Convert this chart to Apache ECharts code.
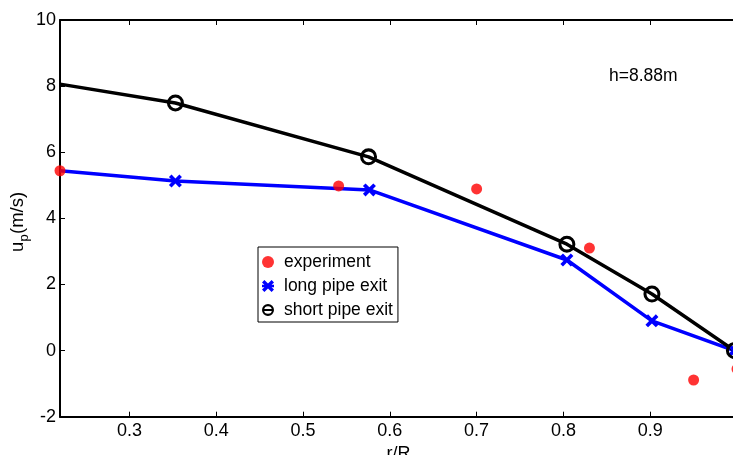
<!DOCTYPE html>
<html>
<head>
<meta charset="utf-8">
<script src="https://cdn.jsdelivr.net/npm/echarts@6/dist/echarts.min.js"></script>
<style>
html,body{margin:0;padding:0;background:#fff;}
#chart{width:733px;height:455px;}
</style>
</head>
<body>
<div id="chart"></div>
<script>
// ---- data ----
const seriesNames = ['experiment', 'long pipe exit', 'short pipe exit'];
const expR = [0.22, 0.541, 0.70, 0.83, 0.95, 1.0];
const expU = [5.44, 4.98, 4.89, 3.10, -0.89, -0.56];
const longR = [0.22, 0.353, 0.5765, 0.804, 0.902, 0.997];
const longU = [5.44, 5.13, 4.86, 2.74, 0.90, 0.0];
const shortR = [0.22, 0.353, 0.5755, 0.804, 0.902, 0.997];
const shortU = [8.06, 7.49, 5.86, 3.22, 1.71, 0.0];
const xTicks = [0.3, 0.4, 0.5, 0.6, 0.7, 0.8, 0.9, 1.0];
const xLabels = [0.3, 0.4, 0.5, 0.6, 0.7, 0.8, 0.9];
const annotation = 'h=8.88m';

const FONT = "'Liberation Sans', Arial, Helvetica, sans-serif";
const crossPath = 'path://M0,2L2,0L5,3L8,0L10,2L7,5L10,8L8,10L5,7L2,10L0,8L3,5Z';
const crossLegend = 'path://M0,2L2,0L5,3L8,0L10,2L8,4L10,4L10,6L8,6L10,8L8,10L5,7L2,10L0,8L2,6L0,6L0,4L2,4Z';
const ringPath = 'path://M0,7A7,7 0 1,1 14,7A7,7 0 1,1 0,7Z M2.5,7A4.5,4.5 0 1,0 11.5,7A4.5,4.5 0 1,0 2.5,7Z';
const ringLegend = 'path://M0,7A7,7 0 1,1 14,7A7,7 0 1,1 0,7Z M2.5,7A4.5,4.5 0 1,0 11.5,7A4.5,4.5 0 1,0 2.5,7Z M2.5,5.9L11.5,5.9L11.5,8.1L2.5,8.1Z';

function pairs(xs, ys, hideFirst) {
  return xs.map((x, i) => (hideFirst && i === 0) ? {value: [x, ys[i]], symbol: 'none'} : [x, ys[i]]);
}

const chart = echarts.init(document.getElementById('chart'), null, {renderer: 'canvas'});
const axisLineStyle = {color: '#000', width: 2};
chart.setOption({
  animation: false,
  backgroundColor: '#fff',
  textStyle: {fontFamily: FONT},
  grid: {left: 60, right: -4, top: 20, bottom: 38.3, containLabel: false, outerBoundsMode: 'none'},
  xAxis: [{
    type: 'value', position: 'bottom', min: 0.22, max: 1.0,
    axisLine: {show: true, onZero: false, lineStyle: axisLineStyle},
    axisTick: {show: true, inside: true, length: 5, customValues: xTicks, lineStyle: {color: '#000', width: 1}},
    axisLabel: {show: true, customValues: xLabels, margin: 5, fontSize: 18, color: '#000', fontFamily: FONT,
      formatter: v => v.toFixed(1)},
    splitLine: {show: false},
    name: 'r/R', nameLocation: 'middle', nameGap: 25,
    nameTextStyle: {fontSize: 18, color: '#000', fontFamily: FONT}
  }, {
    type: 'value', position: 'top', min: 0.22, max: 1.0,
    axisLine: {show: true, onZero: false, lineStyle: axisLineStyle},
    axisTick: {show: true, inside: true, length: 5, customValues: xTicks, lineStyle: {color: '#000', width: 1}},
    axisLabel: {show: false},
    splitLine: {show: false}
  }],
  yAxis: [{
    type: 'value', position: 'left', min: -2, max: 10, interval: 2,
    axisLine: {show: true, onZero: false, lineStyle: axisLineStyle},
    axisTick: {show: true, inside: true, length: 5, lineStyle: {color: '#000', width: 1}},
    axisLabel: {show: true, margin: 4, fontSize: 18, color: '#000', fontFamily: FONT},
    splitLine: {show: false}
  }],
  legend: {
    left: 258, top: 247, orient: 'vertical',
    padding: [6, 5, 3, 4],
    borderColor: '#000', borderWidth: 1, backgroundColor: '#fff',
    itemWidth: 22, itemHeight: 12, itemGap: 6,
    itemStyle: {borderWidth: 0},
    textStyle: {fontSize: 17.5, color: '#000', fontFamily: FONT, lineHeight: 18},
    selectedMode: false,
    data: [
      {name: seriesNames[0], icon: 'circle', itemStyle: {color: '#ff0000', borderWidth: 0}},
      {name: seriesNames[1], icon: crossLegend, itemStyle: {color: '#0000ff', borderWidth: 0}},
      {name: seriesNames[2], icon: ringLegend, itemStyle: {color: '#000', borderWidth: 0}}
    ]
  },
  graphic: [
    {
      type: 'text', x: 609, y: 76,
      style: {text: annotation, font: '17.5px ' + FONT, fill: '#000', align: 'left', verticalAlign: 'middle'}
    },
    {
      type: 'group', x: 18, y: 252, rotation: Math.PI / 2,
      children: [
        {type: 'text', x: 0, y: 0, style: {text: 'u', font: '18.5px ' + FONT, fill: '#000', align: 'left', verticalAlign: 'middle'}},
        {type: 'text', x: 10.5, y: 6, style: {text: 'p', font: '13px ' + FONT, fill: '#000', align: 'left', verticalAlign: 'middle'}},
        {type: 'text', x: 18, y: 0, style: {text: '(m/s)', font: '18.5px ' + FONT, fill: '#000', align: 'left', verticalAlign: 'middle'}}
      ]
    }
  ],
  series: [
    {
      name: seriesNames[1], type: 'line', xAxisIndex: 0, yAxisIndex: 0, z: 3,
      data: pairs(longR, longU, true),
      color: '#0000ff',
      lineStyle: {color: '#0000ff', width: 3.5},
      symbol: crossPath, symbolSize: 13, showSymbol: true,
      itemStyle: {color: '#0000ff', borderWidth: 0}
    },
    {
      name: seriesNames[2], type: 'line', xAxisIndex: 0, yAxisIndex: 0, z: 3,
      data: pairs(shortR, shortU, true),
      color: '#000',
      lineStyle: {color: '#000', width: 3.5},
      symbol: ringPath, symbolSize: 17, showSymbol: true,
      itemStyle: {color: '#000', borderWidth: 0}
    },
    {
      name: seriesNames[0], type: 'scatter', xAxisIndex: 0, yAxisIndex: 0, z: 5,
      data: pairs(expR, expU, false),
      symbol: 'circle', symbolSize: 11,
      itemStyle: {color: '#ff0000', borderWidth: 0}
    }
  ]
});
</script>
</body>
</html>
